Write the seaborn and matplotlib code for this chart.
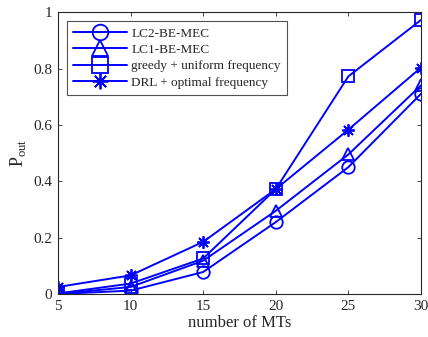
import numpy as np
import pandas as pd
import matplotlib
matplotlib.use("Agg")
import matplotlib.pyplot as plt
import seaborn as sns

mts = [5, 10, 15, 20, 25, 30]
lc2 = [0.0, 0.012, 0.078, 0.255, 0.45, 0.71]
lc1 = [0.0, 0.025, 0.118, 0.295, 0.495, 0.74]
greedy = [0.002, 0.037, 0.126, 0.372, 0.772, 0.972]
drl = [0.025, 0.066, 0.185, 0.372, 0.583, 0.803]
names = ["LC2-BE-MEC", "LC1-BE-MEC", "greedy + uniform frequency", "DRL + optimal frequency"]
markers = ["o", "^", "s", (8, 2, 0)]
ytick_vals = [0, 0.2, 0.4, 0.6, 0.8, 1]
ytick_labels = ["0", "0.2", "0.4", "0.6", "0.8", "1"]

sns.set_style("ticks")
plt.rcParams["font.family"] = ["Liberation Serif", "DejaVu Serif"]
plt.rcParams["mathtext.fontset"] = "custom"
plt.rcParams["mathtext.rm"] = "Liberation Serif"

df = pd.concat([pd.DataFrame({"x": mts, "y": v, "series": n})
                for v, n in zip([lc2, lc1, greedy, drl], names)])

fig = plt.figure(figsize=(4.28, 3.37), dpi=100)
ax = fig.add_axes([0.1355, 0.1276, 0.848, 0.8364])

for n, m in zip(names, markers):
    sub = df[df["series"] == n]
    sns.lineplot(data=sub, x="x", y="y", ax=ax, color="#0000ff", linewidth=1.4,
                 marker=m, markersize=9, markerfacecolor="none",
                 markeredgecolor="#0000ff", markeredgewidth=1.3, label=n)

ax.set_xlim(5, 30)
ax.set_ylim(0, 1)
ax.set_xticks(mts)
ax.set_yticks(ytick_vals)
ax.set_yticklabels(ytick_labels)
ax.tick_params(direction="in", top=True, right=True, length=3, width=0.6,
               labelsize=11, colors="#262626", pad=4)
for s in ax.spines.values():
    s.set_visible(True)
    s.set_linewidth(0.8)
    s.set_color("#262626")
ax.set_xlabel("number of MTs", fontsize=12, color="#262626", labelpad=2)
ax.set_ylabel(r"$\mathrm{P}_{\mathrm{out}}$", fontsize=13, color="#262626", labelpad=4)

leg = ax.legend(loc="upper left", fontsize=9.5, handlelength=4.1, frameon=True,
                fancybox=False, edgecolor="#262626", borderpad=0.45,
                labelspacing=0.32, handletextpad=0.3, borderaxespad=0.7,
                markerscale=1.25)
leg.get_frame().set_linewidth(0.8)

fig.savefig("out.png", dpi=100)
